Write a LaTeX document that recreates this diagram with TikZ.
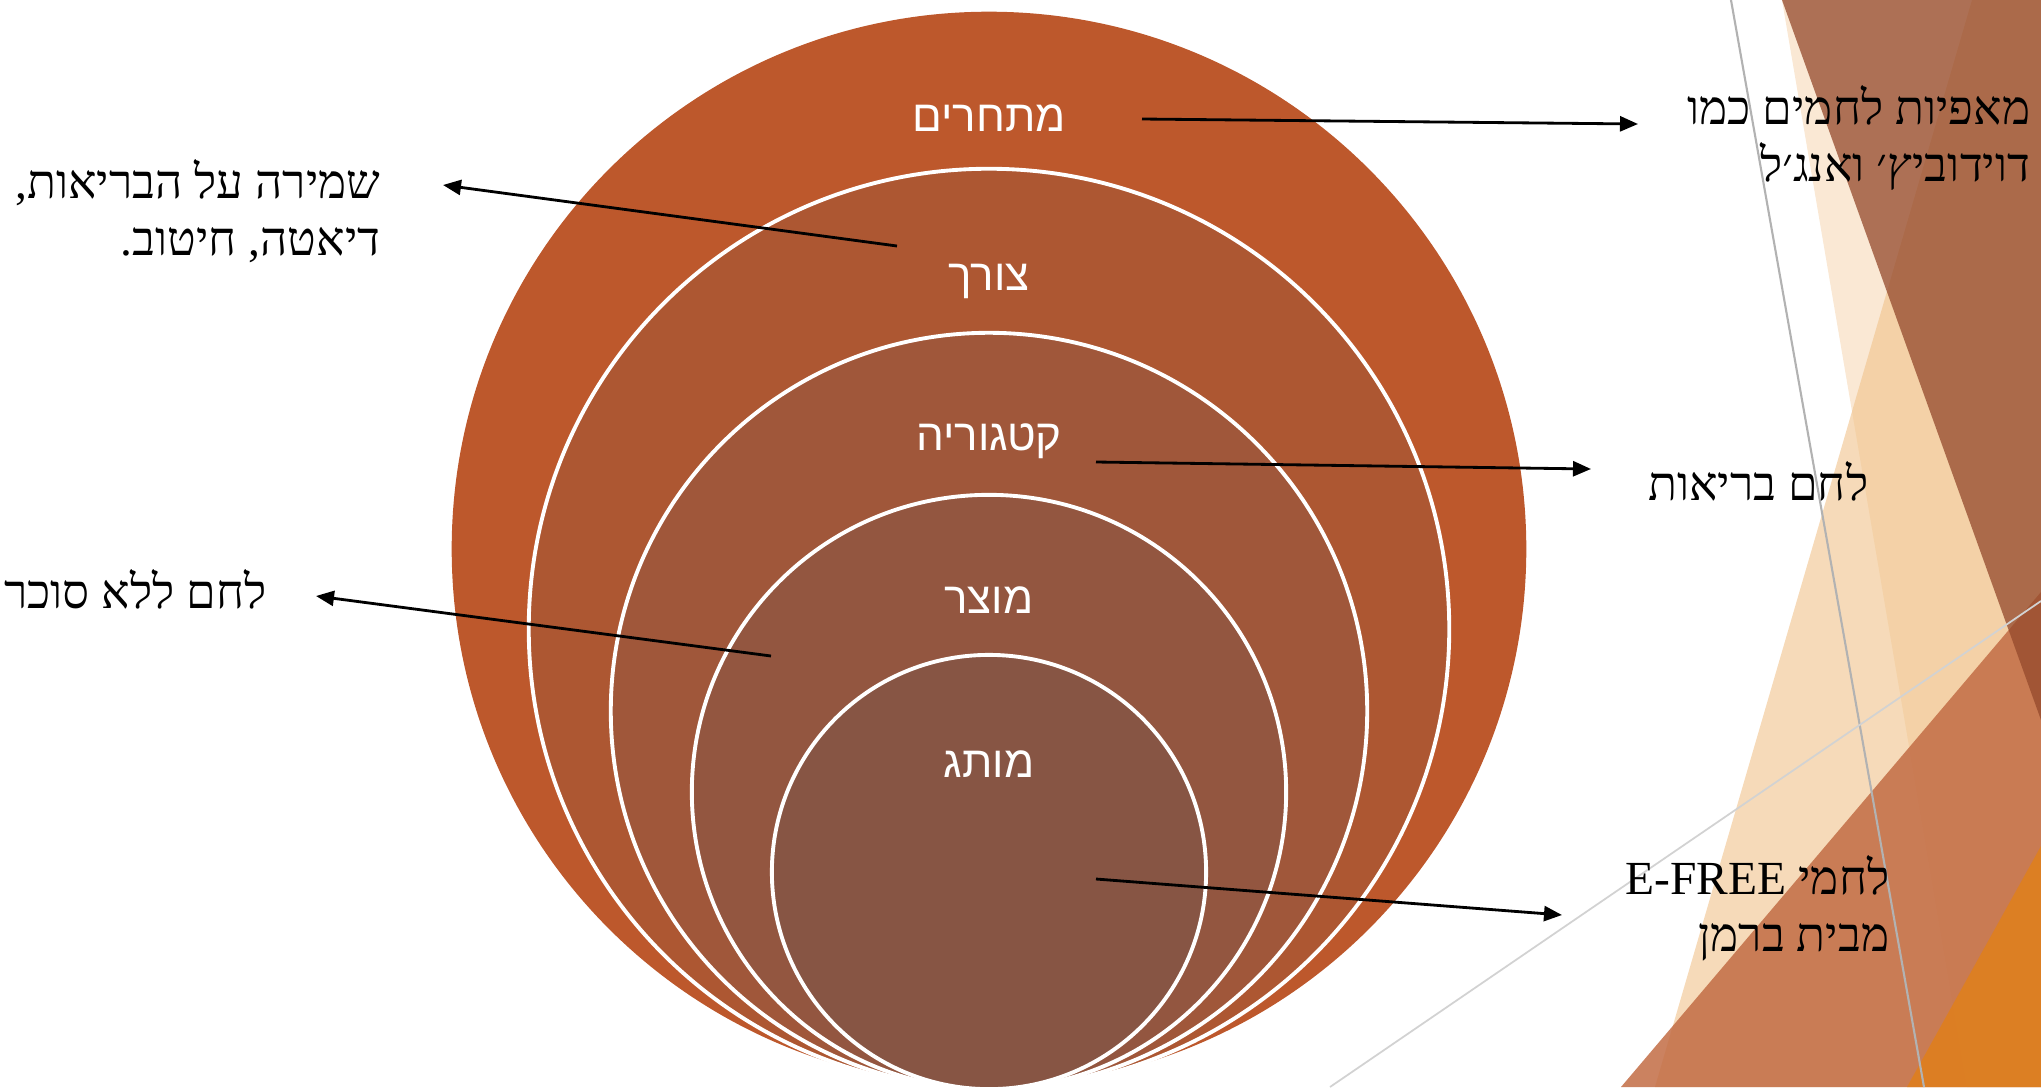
\documentclass[tikz,border=0pt]{standalone}
\usepackage{fontspec}
\usetikzlibrary{arrows.meta}
\setmainfont{Liberation Serif}
\newfontfamily\hebsans[Script=Hebrew]{Liberation Sans}
\newfontfamily\hebserif[Script=Hebrew]{Liberation Serif}
\TeXXeTstate=1
\definecolor{rustA}{HTML}{BD582C}
\definecolor{rustB}{HTML}{AD5732}
\definecolor{rustC}{HTML}{A0573A}
\definecolor{rustD}{HTML}{935640}
\definecolor{rustE}{HTML}{875544}
\definecolor{paleA}{HTML}{F5D5B0}
\definecolor{peachA}{HTML}{F0C28A}
\definecolor{brownA}{HTML}{94492B}
\definecolor{clayA}{HTML}{C26C44}
\definecolor{orangeA}{HTML}{DF7F1E}

\begin{document}
\begin{tikzpicture}[x=0.01cm, y=-0.01cm, ring/.style={circle,draw=white,line width=1.1pt,inner sep=0pt}, lbl/.style={text=white,font=\hebsans\fontsize{12.5}{15}\selectfont,inner sep=0pt,anchor=base}, side/.style={font=\hebserif\fontsize{13.5}{13.5}\selectfont,align=right,inner sep=0pt,anchor=base east}, arr/.style={-{Triangle[length=1.8mm,width=1.5mm]},line width=0.8pt} ]
\useasboundingbox (0,0) rectangle (2041,1087);
\clip (0,0) rectangle (2041,1087);
  \begin{scope}
    % facets on the right
    \fill[paleA, fill opacity=0.55] (1782,0) -- (2041,0) -- (2041,1087) -- (1967,1087) -- cycle;
    \fill[peachA, fill opacity=0.6] (1972,0) -- (2041,0) -- (2041,1087) -- (1655,1087) -- cycle;
    \fill[clayA, fill opacity=0.85] (1621,1087) -- (2041,592) -- (2041,1087) -- cycle;
    \fill[brownA, fill opacity=0.75] (1782,0) -- (2041,0) -- (2041,720) -- cycle;
    \fill[orangeA, fill opacity=0.9] (1907,1087) -- (2041,846) -- (2041,1087) -- cycle;
    \draw[gray!60, line width=0.6pt] (1731,0) -- (1924,1087);
    \draw[gray!35, line width=0.5pt] (1330,1087) -- (2041,601);
  \end{scope}
\node (c1) [circle,fill=rustA,inner sep=0pt,minimum size=10.74cm] at (989,549) {};
\node (c2) [ring,fill=rustB,minimum size=9.2cm] at (989,629) {};
\node (c3) [ring,fill=rustC,minimum size=7.56cm] at (989,711) {};
\node (c4) [ring,fill=rustD,minimum size=5.94cm] at (989,792) {};
\node (c5) [ring,fill=rustE,minimum size=4.34cm] at (989,872) {};
\node (l1) [lbl] at (989,131) {\beginR מתחרים\endR};
\node (l2) [lbl] at (989,290) {\beginR צורך\endR};
\node (l3) [lbl] at (989,450) {\beginR קטגוריה\endR};
\node (l4) [lbl] at (989,613) {\beginR מוצר\endR};
\node (l5) [lbl] at (989,777) {\beginR מותג\endR};
\node (t1) [side] at (2031,181) {\beginR מאפיות לחמים כמו\endR\\[2.7pt]\beginR דוידוביץ׳ ואנג׳ל\endR};
\node (t2) [side] at (381,255) {\beginR שמירה על הבריאות,\endR\\[2.7pt]\beginR דיאטה, חיטוב.\endR};
\node (t3) [side] at (1869,500) {\beginR לחם בריאות\endR};
\node (t4) [side] at (267,608) {\beginR לחם ללא סוכר\endR};
\node (t5) [side] at (1890,951) {\beginR לחמי \beginL E-FREE\endL\endR\\[2.7pt]\beginR מבית ברמן\endR};
  \begin{scope}
    \coordinate (a1) at (1142,119); \coordinate (b1) at (1638,124);
    \coordinate (a2) at (897,246);  \coordinate (b2) at (443,185);
    \coordinate (a3) at (1096,462); \coordinate (b3) at (1591,469);
    \coordinate (a4) at (771,656);  \coordinate (b4) at (316,596);
    \coordinate (a5) at (1096,879); \coordinate (b5) at (1562,915);
    \draw [arr] (a1) -- (b1);
    \draw [arr] (a2) -- (b2);
    \draw [arr] (a3) -- (b3);
    \draw [arr] (a4) -- (b4);
    \draw [arr] (a5) -- (b5);
  \end{scope}
\end{tikzpicture}
\end{document}
